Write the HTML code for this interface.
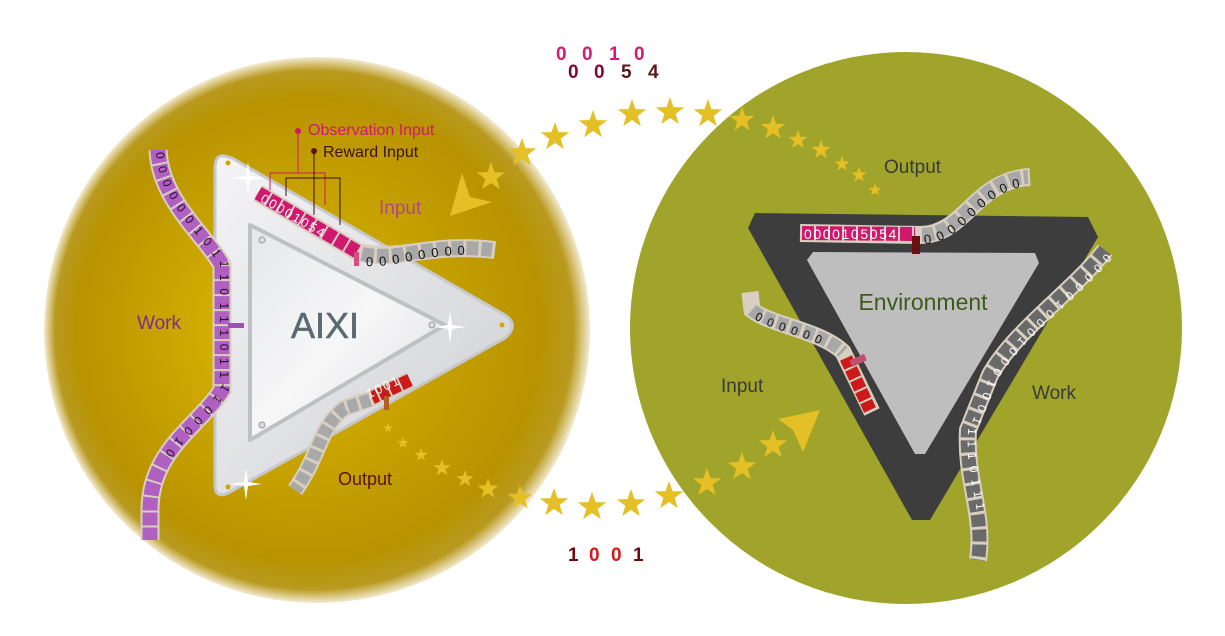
<!DOCTYPE html>
<html><head><meta charset="utf-8"><style>
html,body{margin:0;padding:0;background:#fff;}
svg{display:block;font-family:"Liberation Sans",sans-serif;}
</style></head><body>
<svg width="1225" height="636" viewBox="0 0 1225 636" xmlns="http://www.w3.org/2000/svg">
<defs>
<radialGradient id="gold" cx="0.5" cy="0.5" r="0.5" fx="0.4" fy="0.5">
<stop offset="0" stop-color="#dcb800"/><stop offset="0.85" stop-color="#b89300"/><stop offset="0.95" stop-color="#b99a20"/><stop offset="1" stop-color="#f3ead0"/>
</radialGradient>
<linearGradient id="tri" x1="0" y1="0" x2="1" y2="1">
<stop offset="0" stop-color="#f4f4f6"/><stop offset="1" stop-color="#cfd0d4"/>
</linearGradient>
<linearGradient id="tri2" x1="0" y1="0" x2="1" y2="1">
<stop offset="0" stop-color="#e6e7ea"/><stop offset="0.5" stop-color="#f7f7f8"/><stop offset="1" stop-color="#dcdde0"/>
</linearGradient>
<polygon id="st" points="0,-1 0.235,-0.324 0.951,-0.309 0.38,0.124 0.588,0.809 0,0.4 -0.588,0.809 -0.38,0.124 -0.951,-0.309 -0.235,-0.324" fill="#e4bf25"/>
<g id="spark"><path d="M0,-16 L2,-2 L16,0 L2,2 L0,16 L-2,2 L-16,0 L-2,-2Z" fill="#fff"/></g>
</defs>

<!-- circles -->
<circle cx="317" cy="330" r="273" fill="url(#gold)"/>
<circle cx="906" cy="328" r="276" fill="#a0a42a"/>

<!-- left triangle -->
<path d="M228,157 Q215,152 215,168 L215,485 Q215,500 230,492 L505,338 Q520,325 505,315 L232,158Z" fill="url(#tri)" stroke="#c7c8cc" stroke-width="3"/>
<path d="M250,225 L250,440 L445,325Z" fill="url(#tri2)" stroke="#bfc0c4" stroke-width="4" stroke-linejoin="round"/>
<circle cx="228" cy="163" r="2.5" fill="#d4a500"/><circle cx="228" cy="487" r="2.5" fill="#d4a500"/><circle cx="502" cy="325" r="2.5" fill="#d4a500"/>
<circle cx="262" cy="240" r="3" fill="#ddd" stroke="#999"/><circle cx="262" cy="425" r="3" fill="#ddd" stroke="#999"/><circle cx="432" cy="325" r="3" fill="#ddd" stroke="#999"/>
<use href="#spark" x="248" y="178"/><use href="#spark" x="450" y="327"/><use href="#spark" x="246" y="484"/>
<text x="325" y="338" font-size="36" fill="#5a6a70" text-anchor="middle" stroke="#5a6a70" stroke-width="0.5">AIXI</text>

<!-- left work tape -->
<path d="M158,150 C160,200 205,235 222,265 L222,390 C200,425 150,450 150,510 L150,540" fill="none" stroke="#d8cfc0" stroke-width="19"/>
<path d="M158,150 C160,200 205,235 222,265 L222,390 C200,425 150,450 150,510 L150,540" fill="none" stroke="#b060c0" stroke-width="15" stroke-dasharray="13,2"/>
<path id="lw" d="M160,152 C162,200 207,235 224,265 L224,390 C202,425 152,450 152,510 L152,540" fill="none"/>
<text font-size="12" fill="#2a0a30" letter-spacing="7.6" dy="4"><textPath href="#lw">0000001011101110111100010</textPath></text>
<rect x="228" y="323" width="16" height="5" fill="#9b4fb0"/>
<text x="137" y="329" font-size="19" fill="#7a2e8c">Work</text>

<!-- left input tape -->
<path d="M258,193 L358,252 C400,262 430,242 495,250" fill="none" stroke="#d8cfc0" stroke-width="18"/>
<path d="M258,193 L358,252" fill="none" stroke="#d0186e" stroke-width="14" stroke-dasharray="11,2"/>
<path d="M362,254 C400,262 430,242 492,250" fill="none" stroke="#a8a8a8" stroke-width="14" stroke-dasharray="12,3"/>
<path id="li" d="M262,197 L356,252" fill="none"/>
<text font-size="13" fill="#fff" letter-spacing="2" dy="5"><textPath href="#li">00001054</textPath></text>
<path id="li2" d="M366,262 C400,264 430,246 495,252" fill="none"/>
<text font-size="13" fill="#111" letter-spacing="6" dy="4"><textPath href="#li2">00000000</textPath></text>
<rect x="354" y="252" width="5" height="14" fill="#d05080"/>
<!-- labels -->
<path d="M298,131 L298,173 M270,190 L270,173 L325,173 L325,205" fill="none" stroke="#d0186e" stroke-width="1"/>
<path d="M314,151 L314,215 M286,196 L286,178 L340,178 L340,225" fill="none" stroke="#3a1010" stroke-width="1"/>
<circle cx="298" cy="131" r="3" fill="#d0186e"/><circle cx="314" cy="151" r="3" fill="#5a1010"/>
<text x="308" y="135" font-size="16" fill="#d0186e">Observation Input</text>
<text x="323" y="157" font-size="16" fill="#3a1010">Reward Input</text>
<text x="379" y="214" font-size="19" fill="#b04a80">Input</text>

<!-- left output tape -->
<path d="M410,380 L375,397 L345,408 C320,425 320,455 295,490" fill="none" stroke="#d8cfc0" stroke-width="17"/>
<path d="M410,380 L372,398" fill="none" stroke="#cc1a1a" stroke-width="13" stroke-dasharray="10,2"/>
<path d="M370,400 L345,408 C320,425 320,455 295,490" fill="none" stroke="#a8a8a8" stroke-width="13" stroke-dasharray="10,3"/>
<text x="366" y="393" font-size="13" fill="#fff" transform="rotate(-25 380 390)" letter-spacing="2">1001</text>
<rect x="384" y="396" width="5" height="14" fill="#b06020"/>
<text x="338" y="485" font-size="18" fill="#5a1010">Output</text>

<!-- right triangle -->
<path d="M755,213 L1088,217 L1098,237 L930,520 L912,520 L748,228Z" fill="#3d3d3d"/>
<path d="M813,252 L1035,253 L1039,263 L925,454 L915,454 L807,260Z" fill="#bebebe"/>
<text x="923" y="310" font-size="23" fill="#3e5a1a" text-anchor="middle">Environment</text>

<!-- right top tape -->
<path d="M800,233 L920,235 C965,235 975,180 1030,177" fill="none" stroke="#d8cfc0" stroke-width="18"/>
<path d="M802,233 L915,234" fill="none" stroke="#d0186e" stroke-width="14" stroke-dasharray="12,2"/>
<path d="M922,235 C965,235 975,180 1028,177" fill="none" stroke="#a8a8a8" stroke-width="14" stroke-dasharray="12,3"/>
<text x="804" y="239" font-size="14" fill="#fff" letter-spacing="1.6">0000105054</text>
<path id="rt" d="M924,240 C965,238 978,185 1030,182" fill="none"/>
<text font-size="13" fill="#111" letter-spacing="6" dy="4"><textPath href="#rt">000000000</textPath></text>
<rect x="912" y="236" width="8" height="18" fill="#6a1010"/>
<text x="884" y="173" font-size="19" fill="#3a3a3a">Output</text>

<!-- right work tape -->
<path d="M1105,250 C1075,290 1015,330 990,375 L968,430 C965,480 985,515 978,560" fill="none" stroke="#d8cfc0" stroke-width="18"/>
<path d="M1105,250 C1075,290 1015,330 990,375 L968,430 C965,480 985,515 978,560" fill="none" stroke="#6a6a6a" stroke-width="14" stroke-dasharray="12,3"/>
<path id="rw" d="M1108,255 C1078,293 1018,333 993,378 L971,433 C968,480 988,515 981,560" fill="none"/>
<text font-size="12" fill="#fff" letter-spacing="6.5" dy="3"><textPath href="#rw">000001000100010011110111</textPath></text>
<text x="1032" y="399" font-size="19" fill="#3a3a3a">Work</text>

<!-- right input tape -->
<path d="M750,292 L752,310 C770,325 820,330 843,352 L872,412" fill="none" stroke="#d8cfc0" stroke-width="17"/>
<path d="M752,310 C770,325 820,330 843,352" fill="none" stroke="#a8a8a8" stroke-width="13" stroke-dasharray="11,3"/>
<path d="M846,358 L870,410" fill="none" stroke="#cc1a1a" stroke-width="13" stroke-dasharray="10,2"/>
<path id="ri" d="M756,316 C774,330 820,334 845,356" fill="none"/>
<text font-size="12" fill="#111" letter-spacing="6" dy="3"><textPath href="#ri">000000</textPath></text>
<rect x="850" y="357" width="16" height="7" fill="#c05070" transform="rotate(-25 858 360)"/>
<text x="721" y="392" font-size="19" fill="#3a3a3a">Input</text>

<!-- stars top -->
<g>
<use href="#st" transform="translate(491,177) scale(15)"/>
<use href="#st" transform="translate(522,153) scale(15)"/>
<use href="#st" transform="translate(555,137) scale(15)"/>
<use href="#st" transform="translate(593,125) scale(15)"/>
<use href="#st" transform="translate(632,114) scale(15)"/>
<use href="#st" transform="translate(670,112) scale(15)"/>
<use href="#st" transform="translate(708,114) scale(15)"/>
<use href="#st" transform="translate(742,120) scale(13)"/>
<use href="#st" transform="translate(773,128) scale(13)"/>
<use href="#st" transform="translate(798,140) scale(10)"/>
<use href="#st" transform="translate(821,150) scale(10)"/>
<use href="#st" transform="translate(842,164) scale(8)"/>
<use href="#st" transform="translate(859,175) scale(8)"/>
<use href="#st" transform="translate(875,190) scale(7)"/>
<polygon points="450,216 462,173 470,197 492,202" fill="#e4bf25"/>
</g>
<!-- stars bottom -->
<g>
<use href="#st" transform="translate(388,428) scale(5)"/>
<use href="#st" transform="translate(403,443) scale(6)"/>
<use href="#st" transform="translate(421,455) scale(7)"/>
<use href="#st" transform="translate(442,468) scale(9)"/>
<use href="#st" transform="translate(465,479) scale(9)"/>
<use href="#st" transform="translate(488,489) scale(11)"/>
<use href="#st" transform="translate(520,498) scale(13)"/>
<use href="#st" transform="translate(554,503) scale(15)"/>
<use href="#st" transform="translate(592,507) scale(15)"/>
<use href="#st" transform="translate(631,504) scale(15)"/>
<use href="#st" transform="translate(669,496) scale(15)"/>
<use href="#st" transform="translate(707,483) scale(15)"/>
<use href="#st" transform="translate(742,467) scale(15)"/>
<use href="#st" transform="translate(773,445) scale(15)"/>
<polygon points="820,410 778,419 793,430 803,452" fill="#e4bf25"/>
</g>

<!-- numbers -->
<g font-size="19" font-weight="bold">
<text x="556" y="60" fill="#d41a74">0</text><text x="582" y="60" fill="#d41a74">0</text><text x="609" y="60" fill="#d41a74">1</text><text x="634" y="60" fill="#d41a74">0</text>
<text x="568" y="78" fill="#7a0a30">0</text><text x="594" y="78" fill="#7a0a30">0</text><text x="621" y="78" fill="#5a1818">5</text><text x="648" y="78" fill="#5a1818">4</text>
<text x="568" y="561" fill="#6a0a0a">1</text><text x="589" y="561" fill="#d41a1a">0</text><text x="611" y="561" fill="#d41a1a">0</text><text x="633" y="561" fill="#6a0a0a">1</text>
</g>
</svg>
</body></html>
